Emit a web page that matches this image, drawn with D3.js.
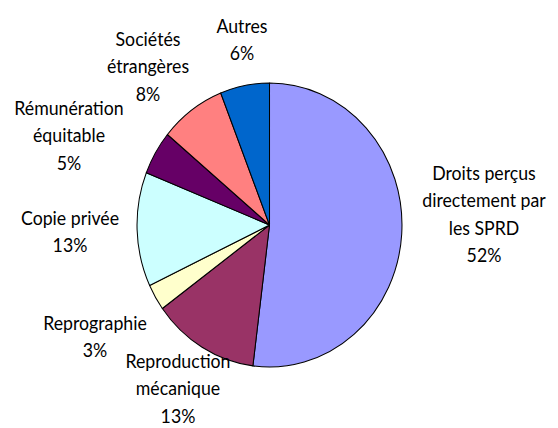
<!DOCTYPE html>
<html>
<head>
<meta charset="utf-8">
<script src="https://cdn.jsdelivr.net/npm/d3@7"></script>
<style>
  html, body { margin: 0; padding: 0; background: #fff; }
  svg { display: block; }
  text { font-family: Lato, "Open Sans", sans-serif; fill: #000; }
</style>
</head>
<body>
<svg id="chart" width="558" height="428"></svg>
<script>
// data, clockwise from 12 o'clock
var categories = [
	["Droits perçus", "directement par", "les SPRD"],
	["Reproduction", "mécanique"],
	["Reprographie"],
	["Copie privée"],
	["Rémunération", "équitable"],
	["Sociétés", "étrangères"],
	["Autres"]
];
var shares = [52, 13, 3, 13, 5, 8, 6];
var colors = ["#9999FF", "#993366", "#FFFFCC", "#CCFFFF", "#660066", "#FF8080", "#0066CC"];

// label placement (page px: block centre x, first baseline y)
var labelAt = [[484, 180], [178, 368], [95, 330], [70, 225], [69, 115], [148, 46], [242, 33]];

var W = 558, H = 428;
var sx = 0.933;            // the original picture is squeezed horizontally
var cx = 269.5, cy = 225, r = 142;
var lineGap = 27.5;

var svg = d3.select("#chart");
var g = svg.append("g").attr("transform", "scale(" + sx + ",1)");

var pie = d3.pie().sort(null).value(function(d){ return d; });
var arc = d3.arc().innerRadius(0).outerRadius(r);

g.append("g")
	.attr("transform", "translate(" + (cx / sx) + "," + cy + ")")
	.selectAll("path")
	.data(pie(shares))
	.join("path")
	.attr("d", arc)
	.attr("fill", function(d, i){ return colors[i]; })
	.attr("stroke", "#000")
	.attr("stroke-width", 1.1)
	.attr("stroke-linejoin", "round");

var labels = g.append("g").selectAll("text")
	.data(categories)
	.join("text")
	.attr("text-anchor", "middle")
	.attr("font-size", 19);

labels.each(function(lines, i){
	var t = d3.select(this);
	var all = lines.concat([shares[i] + "%"]);
	all.forEach(function(s, k){
		t.append("tspan")
			.attr("x", labelAt[i][0] / sx)
			.attr("y", labelAt[i][1] + k * lineGap)
			.text(s);
	});
});
</script>
</body>
</html>
